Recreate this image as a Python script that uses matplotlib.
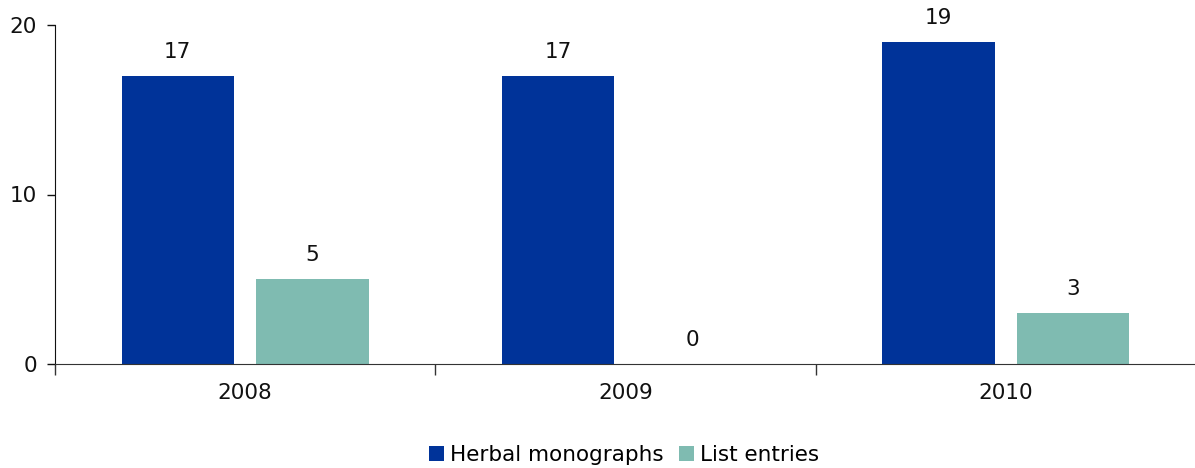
import matplotlib
matplotlib.use("Agg")
import matplotlib.pyplot as plt
import numpy as np

years = ["2008", "2009", "2010"]
herbal_monographs = [17, 17, 19]
list_entries = [5, 0, 3]
series_names = ["Herbal monographs", "List entries"]
colors = ["#003399", "#7FBBB1"]

plt.rcParams['font.family'] = ['DejaVu Sans']
FS = 15.5

fig = plt.figure(figsize=(11.95, 4.68), dpi=100)
ax = fig.add_axes([55/1195, 104/468, 1141/1195, 339/468])

x = np.arange(len(years))
w = 0.295
off = 0.177
b1 = ax.bar(x - off, herbal_monographs, w, color=colors[0], label=series_names[0])
b2 = ax.bar(x + off, list_entries, w, color=colors[1], label=series_names[1])

for bars, vals in ((b1, herbal_monographs), (b2, list_entries)):
    for rect, v in zip(bars, vals):
        ax.annotate(str(v), (rect.get_x() + rect.get_width()/2, v),
                    xytext=(0, 10), textcoords='offset points',
                    ha='center', va='bottom', fontsize=FS, color='#111111')

ax.set_xlim(-0.5, 2.5)
ax.set_ylim(0, 20)
ax.set_yticks([0, 10, 20])
ax.tick_params(axis='y', labelsize=FS, length=6, width=1, pad=7, colors='#111111')
ax.set_xticks([-0.5, 0.5, 1.5, 2.5])
ax.set_xticklabels([])
ax.tick_params(axis='x', which='major', length=8, width=1, color='#333333')
ax.set_xticks(x, minor=True)
ax.set_xticklabels(years, minor=True)
ax.tick_params(axis='x', which='minor', length=0, labelsize=FS, pad=14, labelcolor='#111111')

for s in ['top', 'right']:
    ax.spines[s].set_visible(False)
ax.spines['left'].set_color('#111111')
ax.spines['bottom'].set_color('#333333')

leg = fig.legend(loc='center', bbox_to_anchor=(624/1195, 1 - 455/468), ncol=2,
                 frameon=False, fontsize=FS, handlelength=0.7, handleheight=0.7,
                 handletextpad=0.3, columnspacing=0.7)

fig.savefig("out.png", dpi=100)
